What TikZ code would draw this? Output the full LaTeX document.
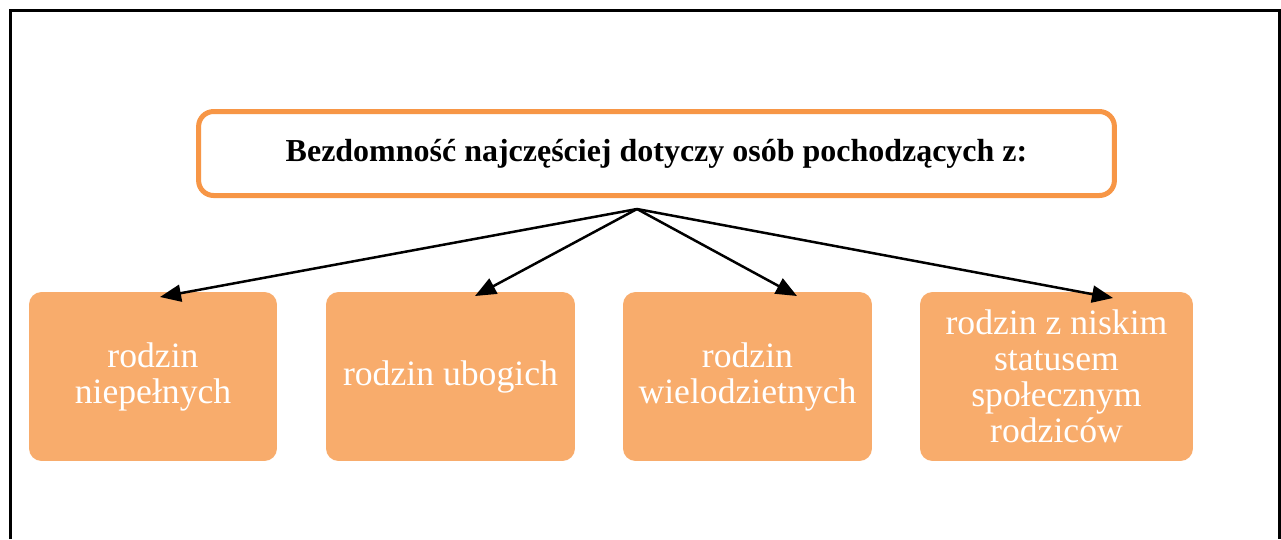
\documentclass[tikz,border=0pt]{standalone}
\usepackage{fontspec}
\setmainfont{Liberation Serif}
\usetikzlibrary{arrows.meta}
\definecolor{ramka}{HTML}{F79646}
\definecolor{wypelnienie}{HTML}{F8AC6C}
\begin{document}
\begin{tikzpicture}[x=0.02cm,y=-0.02cm,
	naglowek/.style={draw=ramka,line width=0.1cm,rounded corners=0.3cm,fill=white,
		minimum width=18.32cm,minimum height=1.68cm,font=\fontsize{18.2}{21}\selectfont\bfseries},
	grupa/.style={fill=wypelnienie,rounded corners=0.25cm,text=white,align=center,
		minimum height=3.38cm,font=\fontsize{20.3}{20.5}\selectfont},
	strzalka/.style={line width=0.05cm,-{Triangle[length=0.42cm,width=0.34cm]}}]
	\useasboundingbox (0,0) rectangle (1281,539);
	\draw[line width=0.06cm] (10.5,539) -- (10.5,10.5) -- (1279,10.5) -- (1279,539);

	\node[naglowek] (tytul) at (656.5,153.5) {Bezdomność najczęściej dotyczy osób pochodzących z:};

	\node[grupa,minimum width=4.96cm] (g1) at (153,376.5) {rodzin\\niepełnych};
	\node[grupa,minimum width=4.98cm] (g2) at (450.5,376.5) {rodzin ubogich};
	\node[grupa,minimum width=4.98cm] (g3) at (747.5,376.5) {rodzin\\wielodzietnych};
	\node[grupa,minimum width=5.46cm] (g4) at (1056.5,376.5) {rodzin z niskim\\statusem\\społecznym\\rodziców};

	\coordinate (start) at (637,209);
	\coordinate (k1) at (160,297);
	\coordinate (k2) at (475,296);
	\coordinate (k3) at (797,296);
	\coordinate (k4) at (1113,298);
	\foreach \k in {k1,k2,k3,k4}
		\draw[strzalka] (start) -- (\k);
\end{tikzpicture}
\end{document}
